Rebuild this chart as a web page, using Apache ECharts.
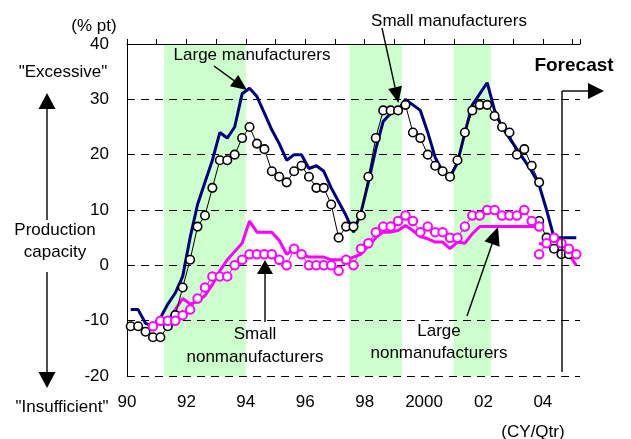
<!DOCTYPE html>
<html>
<head>
<meta charset="utf-8">
<script src="https://cdn.jsdelivr.net/npm/echarts@6/dist/echarts.min.js"></script>
<style>
html, body { margin: 0; padding: 0; background: #fff; }
#chart { width: 631px; height: 439px; }
</style>
</head>
<body>
<div id="chart"></div>
<script>
// quarterly categories 1990Q1 .. 2005Q1
const quarters = []
for (let y = 1990; y <= 2005; y++) {
	for (let q = 1; q <= 4; q++) {
		if (quarters.length < 61) quarters.push(y + 'Q' + q)
	}
}
const yearLabels = ['90', '92', '94', '96', '98', '2000', '02', '04']
const recessions = [['1991Q2', '1993Q4'], ['1997Q3', '1999Q1'], ['2001Q1', '2002Q1']]

const largeMfg = [
	-8, -8, -10.5, -11,
	-9.5, -7, -5, -2,
	5, 11, 15, 19,
	24, 23, 25, 31,
	32, 30.5, 27.5, 24.5,
	22, 19, 20, 20,
	17.5, 18, 17, 14,
	11.5, 9, 6, 9.5,
	15, 21, 26, 27.5,
	28, 30, 29, 28,
	24, 19.5, 17, 16,
	18.5, 24, 29, 31,
	33, 28, 25, 23,
	21, 19, 17, 14.5,
	10, 5, 5, 5,
	5
]
const smallMfgOld = [
	-11, -11, -12, -13,
	-13, -11, -9, -4,
	1, 7, 9, 14,
	19, 19, 20, 23,
	25, 22, 21, 17,
	16, 15, 17, 18,
	16, 14, 14, 11,
	5, 7, 7, 9,
	16, 23, 28, 28,
	28, 29, 24, 23,
	20, 18, 17, 16,
	19, 24, 28, 29,
	29, 27, 25, 24,
	20, 21, 18, 15,
	null, null, null, null,
	null
]
const smallMfgNew = [
	null, null, null, null, null, null, null, null, null, null, null, null, null, null,
	null, null, null, null, null, null, null, null, null, null, null, null, null, null,
	null, null, null, null, null, null, null, null, null, null, null, null, null, null,
	null, null, null, null, null, null, null, null, null, null, null, null, null,
	8,
	5, 3, 2, 2,
	null
]
const largeNonOld = [
	null, null, null, -11,
	-10, -10, -8, -6,
	-7, -6.5, -5.5, -3.5,
	-1, 1, 2.5, 4,
	8, 6, 6, 6,
	4.5, 2, 3, 2,
	1.5, 1.5, 1.5, 1,
	1, 1, 1.5, 2,
	3.5, 5, 6, 6,
	6.3, 7.2, 6.3, 5.2,
	4.8, 4.2, 4.2, 3,
	4.2, 4, 5.7, 7,
	7, 7, 7, 7,
	7, 7, 7, 7,
	null, null, null, null,
	null
]
const largeNonNew = [
	null, null, null, null, null, null, null, null, null, null, null, null, null, null,
	null, null, null, null, null, null, null, null, null, null, null, null, null, null,
	null, null, null, null, null, null, null, null, null, null, null, null, null, null,
	null, null, null, null, null, null, null, null, null, null, null, null, null,
	4,
	3.5, 3, 2.5, 2,
	0
]
const smallNonOld = [
	null, null, null, -11,
	-10, -10, -10, -9,
	-8, -6, -4, -2,
	-2, -2, 0, 1,
	2, 2, 2, 2,
	1, 0, 3, 2,
	0, 0, 0, 0,
	-1, 1, 0, 3,
	4, 6, 7, 7,
	8, 9, 8, 6,
	7, 6, 6, 5,
	5, 7, 9, 9,
	10, 10, 9, 9,
	9, 10, 8, 7,
	null, null, null, null,
	null
]
const smallNonNew = [
	null, null, null, null, null, null, null, null, null, null, null, null, null, null,
	null, null, null, null, null, null, null, null, null, null, null, null, null, null,
	null, null, null, null, null, null, null, null, null, null, null, null, null, null,
	null, null, null, null, null, null, null, null, null, null, null, null, null,
	2,
	4, 5, 4, 3,
	2
]

const font = "'Liberation Sans', Arial, sans-serif"

function arrow(x1, y1, x2, y2, len, half) {
	const d = Math.hypot(x2 - x1, y2 - y1)
	const ux = (x2 - x1) / d, uy = (y2 - y1) / d
	const bx = x2 - ux * len, by = y2 - uy * len
	return [
		{ type: 'line', z: 100, shape: { x1: x1, y1: y1, x2: bx, y2: by }, style: { stroke: '#000', lineWidth: 1.4 } },
		{ type: 'polygon', z: 100, shape: { points: [[x2, y2], [bx - uy * half, by + ux * half], [bx + uy * half, by - ux * half]] }, style: { fill: '#000' } }
	]
}
function label(text, x, y, extra) {
	return {
		type: 'text', x: x, y: y, z: 100,
		style: Object.assign({ text: text, fill: '#000', font: '17px ' + font, align: 'center', verticalAlign: 'middle' }, extra || {})
	}
}

const lineSeries = (data, color, width) => ({
	type: 'line', xAxisIndex: 1, data: data, symbol: 'none', connectNulls: false,
	lineStyle: { color: color, width: width }, z: 2
})
const dotSeries = (data, color, border) => ({
	type: 'line', xAxisIndex: 1, data: data, symbol: 'circle', symbolSize: 8.5, showAllSymbol: true,
	connectNulls: false,
	lineStyle: { color: color, width: 1 },
	itemStyle: { color: '#fff', borderColor: color, borderWidth: border }, z: 3
})

const chart = echarts.init(document.getElementById('chart'))
chart.setOption({
	animation: false,
	grid: { left: 127, right: 51, top: 44, bottom: 63, containLabel: false, outerBoundsMode: 'none' },
	xAxis: [
		{
			type: 'value', min: 0, max: 61, interval: 8, position: 'bottom',
			axisLine: { show: false }, axisTick: { show: false }, splitLine: { show: false },
			axisLabel: {
				margin: 18, fontSize: 17, fontFamily: font, color: '#000', showMaxLabel: false,
				formatter: v => yearLabels[v / 8] || ''
			}
		},
		{
			type: 'category', data: quarters, boundaryGap: true, position: 'top',
			axisLine: { onZero: true, lineStyle: { color: '#000', width: 1 } },
			axisTick: { show: true, inside: false, interval: 3, length: 5, lineStyle: { color: '#000', width: 1 } },
			axisLabel: { show: false }, splitLine: { show: false }
		}
	],
	yAxis: {
		type: 'value', min: -20, max: 40, interval: 10,
		axisLine: { show: true, onZero: false, lineStyle: { color: '#000' } },
		axisTick: { show: false },
		axisLabel: { margin: 18, fontSize: 17, fontFamily: font, color: '#000' },
		splitLine: { show: true, lineStyle: { color: '#000', width: 1, type: [8, 6] } }
	},
	series: [
		{
			type: 'line', xAxisIndex: 0, data: [], z: -5,
			markArea: {
				silent: true, z: -5,
				itemStyle: { color: '#ccffcc' },
				data: recessions.map(r => [{ xAxis: quarters.indexOf(r[0]) }, { xAxis: quarters.indexOf(r[1]) + 1 }])
			}
		},
		lineSeries(largeMfg, '#000080', 3),
		lineSeries(largeNonOld, '#ff00ff', 3),
		lineSeries(largeNonNew, '#ff00ff', 3),
		dotSeries(smallMfgOld, '#000', 1.6),
		dotSeries(smallMfgNew, '#000', 1.6),
		dotSeries(smallNonOld, '#ff00ff', 2),
		dotSeries(smallNonNew, '#ff00ff', 2)
	],
	graphic: [
		label('(% pt)', 94, 26),
		label('"Excessive"', 63, 72),
		label('Production\ncapacity', 55, 241, { lineHeight: 22 }),
		label('"Insufficient"', 62, 407),
		label('(CY/Qtr)', 533, 432),
		label('Forecast', 574, 66, { font: 'bold 19px ' + font }),
		label('Large manufacturers', 252, 55),
		label('Small manufacturers', 449, 21),
		label('Small\nnonmanufacturers', 255, 346, { lineHeight: 23 }),
		label('Large\nnonmanufacturers', 439, 342, { lineHeight: 22 }),
		...arrow(214, 66, 247, 90, 16, 7),
		...arrow(382, 28, 398.5, 103, 16, 7),
		...arrow(265, 322, 265, 260, 14, 8),
		...arrow(467, 316, 498, 227, 18, 8),
		...arrow(47, 220, 47, 93, 16, 8.5),
		...arrow(47, 272, 47, 388, 16, 8.5),
		{ type: 'line', z: 100, shape: { x1: 562, y1: 372, x2: 562, y2: 91 }, style: { stroke: '#000', lineWidth: 1.4 } },
		...arrow(562, 91, 604, 91, 16, 8)
	]
})
</script>
</body>
</html>
